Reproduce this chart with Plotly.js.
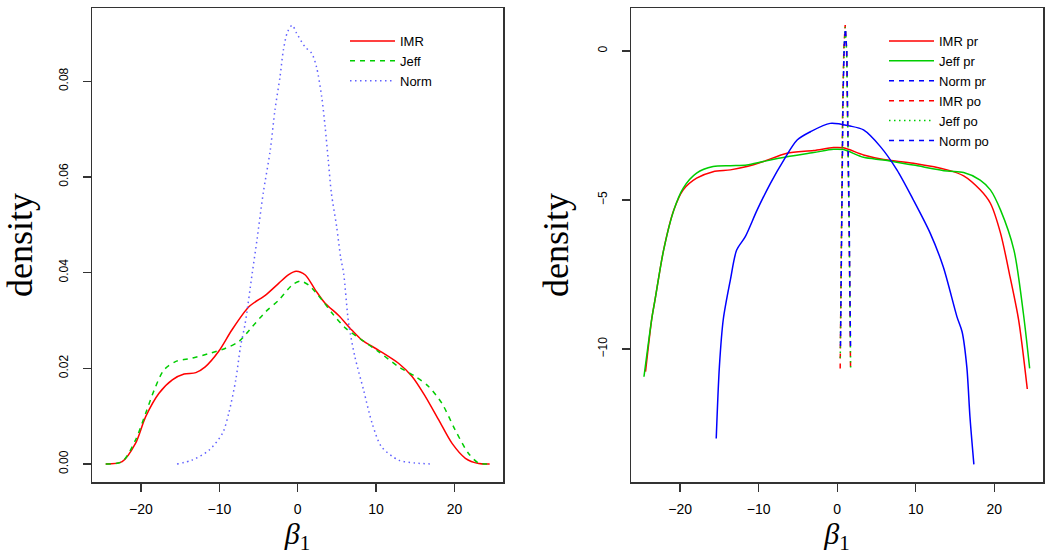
<!DOCTYPE html>
<html>
<head>
<meta charset="utf-8">
<script src="https://cdn.plot.ly/plotly-3.0.1.min.js"></script>
<style>html,body{margin:0;padding:0;background:#fff;}#chart{width:1050px;height:555px;}</style>
</head>
<body>
<div id="chart"></div>
<script>
// ---- Left panel: densities of beta_1 ----
var imrX = [-24.5,-22.4,-20.7,-19.4,-17.7,-16.0,-14.5,-13.0,-11.8,-10.1,-8.4,-6.2,-4.1,-2.4,-1.15,-0.2,0.97,2.24,3.5,5.2,6.9,8.2,10.3,12.9,14.6,16.3,18.0,19.7,21.4,23.1,24.5];
var imrY = [0,0.0005,0.0043,0.0099,0.0148,0.0176,0.0188,0.0191,0.0203,0.0235,0.028,0.0329,0.0353,0.0378,0.0396,0.0403,0.0395,0.0364,0.0336,0.0311,0.028,0.0259,0.0238,0.021,0.0183,0.0141,0.0092,0.0043,0.0012,0.0001,0];

var jeffX = [-24.5,-22.4,-20.7,-19.4,-18.3,-17.1,-15.6,-13.5,-11.3,-9.2,-7.5,-5.8,-4.1,-2.4,-0.7,0.33,1.4,3.1,4.4,6.1,8.2,10.3,12.9,15.0,16.7,18.4,20.1,21.8,23.1,24.5];
var jeffY = [0,0.0005,0.005,0.0106,0.0155,0.0196,0.0214,0.0221,0.0231,0.0242,0.0256,0.0287,0.0318,0.0343,0.0374,0.0382,0.0374,0.0343,0.0315,0.0284,0.0259,0.0235,0.0203,0.0183,0.0162,0.0127,0.0071,0.0022,0.0002,0];

var normX = [-15.4,-13.5,-11.3,-9.6,-8.8,-7.9,-7.3,-6.7,-5.8,-5.2,-4.4,-3.5,-2.9,-2.25,-1.83,-1.3,-0.7,-0.13,0.93,1.8,2.4,3.06,3.5,3.9,4.3,4.97,5.5,5.86,6.5,7.3,8.4,9.5,10.7,12.9,15.0,17.3];
var normY = [0,0.0008,0.0029,0.0064,0.0106,0.0176,0.0245,0.0294,0.0399,0.0468,0.0566,0.0656,0.074,0.081,0.0865,0.0903,0.0917,0.09,0.0872,0.0858,0.083,0.0768,0.0705,0.0635,0.0566,0.0496,0.043,0.0399,0.0294,0.0224,0.0155,0.0085,0.0036,0.0008,0.0002,0];

// ---- Right panel: log densities, priors (pr) and posteriors (po) ----
var imrPrX = [-24.4,-23.6,-23.2,-22.1,-20.8,-19.6,-17.9,-15.8,-13.6,-11.5,-9.4,-6.4,-3.0,-0.47,0.8,3.35,5.9,9.7,14.0,16.1,18.2,19.5,20.8,22.0,23.1,24.2];
var imrPrY = [-10.76,-8.97,-8.36,-6.68,-5.34,-4.66,-4.27,-4.05,-3.99,-3.88,-3.71,-3.43,-3.34,-3.24,-3.25,-3.49,-3.64,-3.77,-3.99,-4.19,-4.66,-5.11,-6.12,-7.57,-9.03,-11.34];

var jeffPrX = [-24.6,-23.6,-23.2,-22.1,-20.8,-19.6,-17.9,-15.8,-13.6,-11.5,-9.4,-6.4,-3.0,-0.47,0.8,3.35,5.9,9.7,14.0,16.1,18.2,19.5,20.8,22.5,23.7,24.5];
var jeffPrY = [-10.93,-8.97,-8.36,-6.68,-5.34,-4.6,-4.10,-3.88,-3.85,-3.83,-3.71,-3.55,-3.41,-3.30,-3.31,-3.57,-3.66,-3.83,-4.03,-4.08,-4.33,-4.66,-5.34,-6.68,-8.80,-10.65];

var normPrX = [-15.4,-15.0,-14.5,-13.6,-12.8,-11.7,-10.2,-8.5,-6.8,-5.1,-3.4,-0.9,1.66,3.35,5.5,7.6,9.7,11.85,13.5,15.25,15.9,16.5,16.9,17.4];
var normPrY = [-13.0,-10.6,-9.0,-7.68,-6.68,-6.23,-5.34,-4.44,-3.66,-2.99,-2.71,-2.43,-2.52,-2.65,-3.21,-3.99,-5.0,-6.12,-7.24,-8.92,-9.42,-10.6,-12.27,-13.87];

var imrPoX = [0.38,0.45,0.55,0.7,0.85,1.02,1.2,1.35,1.5,1.62,1.70];
var imrPoY = [-10.65,-8.0,-5.0,-1.9,0.1,0.87,0.0,-2.3,-5.6,-8.6,-10.65];

var jeffPoX = [0.39,0.46,0.56,0.71,0.86,1.03,1.21,1.36,1.51,1.63,1.71];
var jeffPoY = [-10.3,-7.8,-4.9,-1.9,0.05,0.8,-0.05,-2.3,-5.6,-8.6,-10.65];

var normPoX = [0.42,0.5,0.6,0.75,0.9,1.05,1.22,1.37,1.52,1.63,1.70];
var normPoY = [-9.9,-7.2,-4.3,-1.5,0.2,0.75,0.0,-2.3,-5.6,-8.3,-9.9];

// ---- Tick labels ----
var xTickVals = [-20,-10,0,10,20];
var xTickText = ['\u221220','\u221210','0','10','20'];
var y1TickVals = [0,0.02,0.04,0.06,0.08];
var y1TickText = ['0.00','0.02','0.04','0.06','0.08'];
var y2TickVals = [-10,-5,0];
var y2TickText = ['\u221210','\u22125','0'];

var RED = '#FF0000', GREEN = '#00CD00', BLUE = '#0000FF';
var DASH = '5px,5px', DOT = '1.5px,3.5px';
var SMOOTH = {shape: 'spline', smoothing: 0.8};

function ln(color, dash, smooth) {
  var o = {color: color, width: 1.5};
  if (dash) o.dash = dash;
  if (smooth) { o.shape = SMOOTH.shape; o.smoothing = SMOOTH.smoothing; }
  return o;
}

var traces = [
  {x: imrX, y: imrY, name: 'IMR', type: 'scatter', mode: 'lines', xaxis: 'x', yaxis: 'y', legend: 'legend',
   line: ln(RED, null, true)},
  {x: jeffX, y: jeffY, name: 'Jeff', type: 'scatter', mode: 'lines', xaxis: 'x', yaxis: 'y', legend: 'legend',
   line: ln(GREEN, DASH, true)},
  {x: normX, y: normY, name: 'Norm', type: 'scatter', mode: 'lines', xaxis: 'x', yaxis: 'y', legend: 'legend',
   line: ln('#6060ff', DOT, true)},

  {x: imrPrX, y: imrPrY, name: 'IMR pr', type: 'scatter', mode: 'lines', xaxis: 'x2', yaxis: 'y2', legend: 'legend2',
   line: ln(RED, null, true)},
  {x: jeffPrX, y: jeffPrY, name: 'Jeff pr', type: 'scatter', mode: 'lines', xaxis: 'x2', yaxis: 'y2', legend: 'legend2',
   line: ln(GREEN, null, true)},
  // legend entry for Norm pr (drawn dashed in the reference's key)
  {x: [null], y: [null], name: 'Norm pr', type: 'scatter', mode: 'lines', xaxis: 'x2', yaxis: 'y2', legend: 'legend2',
   line: ln(BLUE, DASH, false)},
  {x: normPrX, y: normPrY, name: 'Norm pr', type: 'scatter', mode: 'lines', xaxis: 'x2', yaxis: 'y2', legend: 'legend2',
   showlegend: false, line: ln(BLUE, null, true)},
  {x: imrPoX, y: imrPoY, name: 'IMR po', type: 'scatter', mode: 'lines', xaxis: 'x2', yaxis: 'y2', legend: 'legend2',
   line: ln(RED, DASH, false)},
  {x: jeffPoX, y: jeffPoY, name: 'Jeff po', type: 'scatter', mode: 'lines', xaxis: 'x2', yaxis: 'y2', legend: 'legend2',
   line: ln(GREEN, DOT, false)},
  {x: normPoX, y: normPoY, name: 'Norm po', type: 'scatter', mode: 'lines', xaxis: 'x2', yaxis: 'y2', legend: 'legend2',
   line: ln(BLUE, DASH, false)}
];

var AX = '#333333';
function xAxis(dom, anchor) {
  return {
    domain: dom, anchor: anchor, range: [-26.25, 26.2],
    showline: true, mirror: true, linecolor: AX, linewidth: 1.5,
    ticks: 'outside', ticklen: 8, tickwidth: 1.2, tickcolor: AX,
    tickvals: xTickVals, ticktext: xTickText, ticklabelstandoff: 6,
    tickfont: {family: 'Liberation Sans, Arial, sans-serif', size: 14, color: '#000'},
    showgrid: false, zeroline: false, automargin: false,
    title: {text: '<i>\u03b2</i><sub>1</sub>', standoff: 0,
            font: {family: 'Liberation Serif, Times New Roman, serif', size: 30, color: '#000'}}
  };
}
function yAxis(dom, anchor, range, vals, text) {
  return {
    domain: dom, anchor: anchor, range: range,
    showline: true, mirror: true, linecolor: AX, linewidth: 1.5,
    ticks: 'outside', ticklen: 8, tickwidth: 1.2, tickcolor: AX,
    tickvals: vals, ticktext: text, tickangle: -90, ticklabelstandoff: 10,
    tickfont: {family: 'Liberation Sans, Arial, sans-serif', size: 12, color: '#000'},
    showgrid: false, zeroline: false, automargin: false,
    title: {text: 'density', standoff: 16,
            font: {family: 'Liberation Serif, Times New Roman, serif', size: 36, color: '#000'}}
  };
}

var yDom = [73/555, 547/555];
var layout = {
  width: 1050, height: 555,
  margin: {l: 0, r: 0, t: 0, b: 0},
  paper_bgcolor: '#ffffff', plot_bgcolor: '#ffffff',
  font: {family: 'Liberation Sans, Arial, sans-serif', color: '#000'},
  xaxis: xAxis([92/1050, 503/1050], 'y'),
  yaxis: yAxis(yDom, 'x', [-0.00376, 0.0953], y1TickVals, y1TickText),
  xaxis2: xAxis([631/1050, 1043/1050], 'y2'),
  yaxis2: yAxis(yDom, 'x2', [-14.46, 1.44], y2TickVals, y2TickText),
  legend: {x: 345/1050, y: 1 - 26/555, xanchor: 'left', yanchor: 'top',
           bgcolor: 'rgba(0,0,0,0)', borderwidth: 0, itemwidth: 45,
           font: {family: 'Liberation Sans, Arial, sans-serif', size: 13, color: '#000'}},
  legend2: {x: 884/1050, y: 1 - 26/555, xanchor: 'left', yanchor: 'top',
            bgcolor: 'rgba(0,0,0,0)', borderwidth: 0, itemwidth: 45,
            font: {family: 'Liberation Sans, Arial, sans-serif', size: 13, color: '#000'}},
  showlegend: true
};

Plotly.newPlot('chart', traces, layout, {staticPlot: true, displayModeBar: false});
</script>
</body>
</html>
